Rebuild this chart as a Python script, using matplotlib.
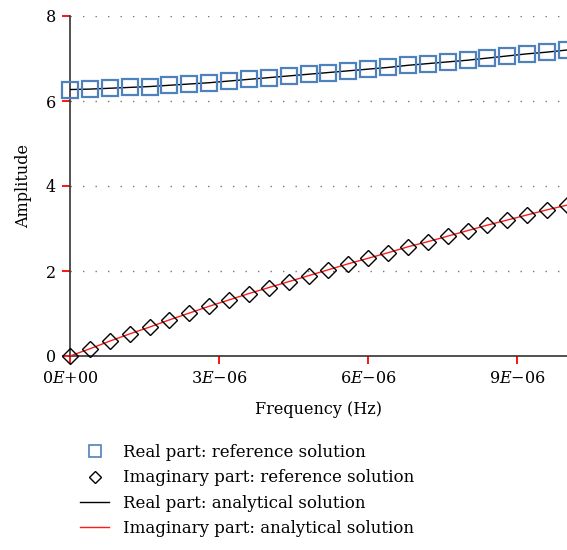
import matplotlib
matplotlib.use('Agg')
import matplotlib.pyplot as plt
from matplotlib.lines import Line2D

# frequency grid (Hz) and amplitudes
freq = [0.0, 0.4e-6, 0.8e-6, 1.2e-6, 1.6e-6, 2.0e-6, 2.4e-6, 2.8e-6, 3.2e-6,
        3.6e-6, 4.0e-6, 4.4e-6, 4.8e-6, 5.2e-6, 5.6e-6, 6.0e-6, 6.4e-6,
        6.8e-6, 7.2e-6, 7.6e-6, 8.0e-6, 8.4e-6, 8.8e-6, 9.2e-6, 9.6e-6, 10.0e-6]
real_ref = [6.27, 6.28, 6.30, 6.32, 6.34, 6.37, 6.40, 6.43, 6.47, 6.51, 6.55,
            6.59, 6.63, 6.67, 6.71, 6.75, 6.79, 6.84, 6.88, 6.92, 6.96, 7.01,
            7.06, 7.11, 7.15, 7.20]
imag_ref = [0.0, 0.17, 0.35, 0.52, 0.68, 0.85, 1.01, 1.17, 1.32, 1.47, 1.61,
            1.75, 1.89, 2.03, 2.17, 2.30, 2.43, 2.57, 2.69, 2.82, 2.95, 3.08,
            3.20, 3.32, 3.44, 3.55]
real_ana = real_ref
imag_ana = imag_ref

xticks = [0, 3e-6, 6e-6, 9e-6]
xticklabels = ['0$\\it{E}$+00', '3$\\it{E}$\u221206', '6$\\it{E}$\u221206', '9$\\it{E}$\u221206']
yticks = [0, 2, 4, 6, 8]

plt.rcParams['font.family'] = ['DejaVu Serif']
plt.rcParams['mathtext.fontset'] = 'dejavuserif'

fig = plt.figure(figsize=(5.67, 5.5), dpi=100)
ax = fig.add_axes([70 / 567, 1 - 356 / 550, 1 - 70 / 567, 340 / 550])

blue = '#4f81bd'
ax.plot(freq, real_ana, color='black', lw=1.0, zorder=3)
ax.plot(freq, imag_ana, color='#ff1a1a', lw=1.0, zorder=3)
ax.plot(freq, real_ref, ls='none', marker='s', ms=11.5, mfc='none', mec=blue, mew=1.6,
        zorder=4, clip_on=False)
ax.plot(freq, imag_ref, ls='none', marker='D', ms=8.0, mfc='none', mec='black', mew=1.0,
        zorder=4, clip_on=False)

ax.set_xlim(0, 1e-5)
ax.set_ylim(0, 8)
ax.set_xticks(xticks)
ax.set_xticklabels(xticklabels)
ax.set_yticks(yticks)
ax.grid(True, axis='y', ls=(0, (1, 8)), color='#777777', lw=1.0)
# red only to check whether the tick marks get drawn at all
ax.tick_params(axis='both', direction='out', length=6, width=1.3, color='red',
               labelsize=11.5, pad=4)

for s in ['top', 'right']:
    ax.spines[s].set_visible(False)
for s in ['left', 'bottom']:
    ax.spines[s].set_color('#333333')
    ax.spines[s].set_linewidth(1.2)

ax.set_xlabel('Frequency (Hz)', fontsize=11.5, labelpad=10)
ax.set_ylabel('Amplitude', fontsize=11.5, labelpad=10)

handles = [
    Line2D([], [], ls='none', marker='s', ms=8, mfc='none', mec=blue, mew=1.2),
    Line2D([], [], ls='none', marker='D', ms=6, mfc='none', mec='black', mew=1.0),
    Line2D([], [], color='black', lw=1.0),
    Line2D([], [], color='#ff1a1a', lw=1.0),
]
labels = ['Real part: reference solution', 'Imaginary part: reference solution',
          'Real part: analytical solution', 'Imaginary part: analytical solution']
fig.legend(handles, labels, loc='upper left', bbox_to_anchor=(80 / 567, 1 - 444 / 550),
           frameon=False, fontsize=12, borderpad=0, borderaxespad=0,
           handlelength=1.75, handletextpad=0.85, labelspacing=0.5)

fig.savefig('out.png', dpi=100)
